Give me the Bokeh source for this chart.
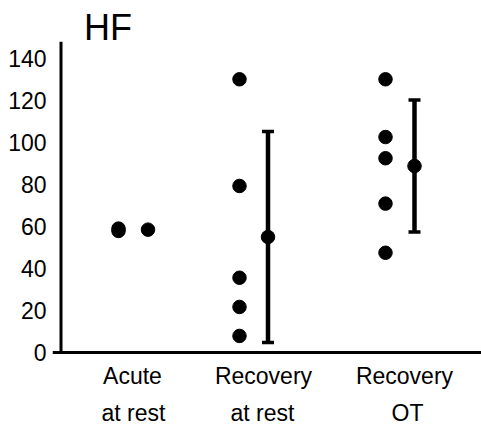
from bokeh.plotting import figure
from bokeh.models import (Range1d, FixedTicker, LinearAxis, Label, LabelSet,
                          Whisker, TeeHead, ColumnDataSource, Span)
from bokeh.core.properties import value
from bokeh.embed import file_html
from bokeh.resources import INLINE

# --- data -------------------------------------------------------------
group_line1 = ["Acute", "Recovery", "Recovery"]
group_line2 = ["at rest", "at rest", "OT"]
acute_values = [59.0, 57.9]
rest_values = [130.1, 79.3, 35.6, 21.7, 7.9]
ot_values = [130.1, 102.6, 92.5, 70.9, 47.5]
group_means = [58.5, 55.0, 88.8]
group_sds = [0.8, 50.2, 31.4]
y_ticks = [0, 20, 40, 60, 80, 100, 120, 140]

# --- layout (x in pixels from the left edge of the plot area) ---------
FONT = "Liberation Sans"
FS = "23px"
indiv_x = [66, 187, 333]        # column of individual points per group
mean_x = [95.5, 215.5, 362]     # mean +/- SD column per group
line1_x = [80, 211, 352]
line2_x = [81, 210, 355]
PX_PER_UNIT = 2.1
ZERO_PX = 352                   # distance of y=0 from the top
H = 428

# the category labels live inside the plot area, below y=0
p = figure(width=481, height=H, output_backend="svg", toolbar_location=None,
           x_range=Range1d(0, 429),
           y_range=Range1d(-(H - ZERO_PX) / PX_PER_UNIT, ZERO_PX / PX_PER_UNIT),
           x_axis_type=None, y_axis_type=None,
           min_border_left=52, min_border_right=0, min_border_top=0,
           min_border_bottom=0)
p.outline_line_color = None
p.background_fill_color = "white"
p.border_fill_color = "white"

# y axis: labels only, the spine is drawn separately
yaxis = LinearAxis(ticker=FixedTicker(ticks=y_ticks), axis_line_color=None,
                   major_tick_line_color=None, minor_tick_line_color=None,
                   major_tick_out=0, major_tick_in=0,
                   minor_tick_out=0, minor_tick_in=0,
                   major_label_standoff=6, major_label_text_font=FONT,
                   major_label_text_font_size=FS, major_label_text_color="black")
p.add_layout(yaxis, "left")

# baseline at y = 0 and the vertical spine
p.add_layout(Span(location=0, dimension="width", line_width=3, line_color="black"))
p.segment(x0=[8.5], y0=[0], x1=[8.5], y1=[148], line_width=3, line_color="black")

# two-line category labels under the baseline
for xs, texts, off in ((line1_x, group_line1, -10.3), (line2_x, group_line2, -47.5)):
    lab_src = ColumnDataSource(dict(x=xs, y=[0] * len(xs), text=texts))
    p.add_layout(LabelSet(source=lab_src, x="x", y="y", text="text",
                          y_offset=off, text_align="center", text_baseline="top",
                          text_font=value(FONT), text_font_size=value(FS),
                          text_color="black"))

# individual points
groups = [acute_values, rest_values, ot_values]
px, py = [], []
for gx, vals in zip(indiv_x, groups):
    px += [gx] * len(vals)
    py += vals
p.scatter(px, py, size=13.5, color="black")

# mean +/- SD
src = ColumnDataSource(dict(
    x=mean_x, mean=group_means,
    upper=[m + s for m, s in zip(group_means, group_sds)],
    lower=[m - s for m, s in zip(group_means, group_sds)]))
p.add_layout(Whisker(source=src, base="x", upper="upper", lower="lower",
                     line_width=4.5, line_color="black",
                     upper_head=TeeHead(size=12, line_width=3.5, line_color="black"),
                     lower_head=TeeHead(size=12, line_width=3.5, line_color="black")))
p.scatter("x", "mean", source=src, size=13.5, color="black")

p.add_layout(Label(x=31.5, y=164.5, text="HF", text_font=FONT,
                   text_font_size="36px", text_baseline="top",
                   text_color="black"))

open("out.html", "w").write(file_html(p, INLINE))
